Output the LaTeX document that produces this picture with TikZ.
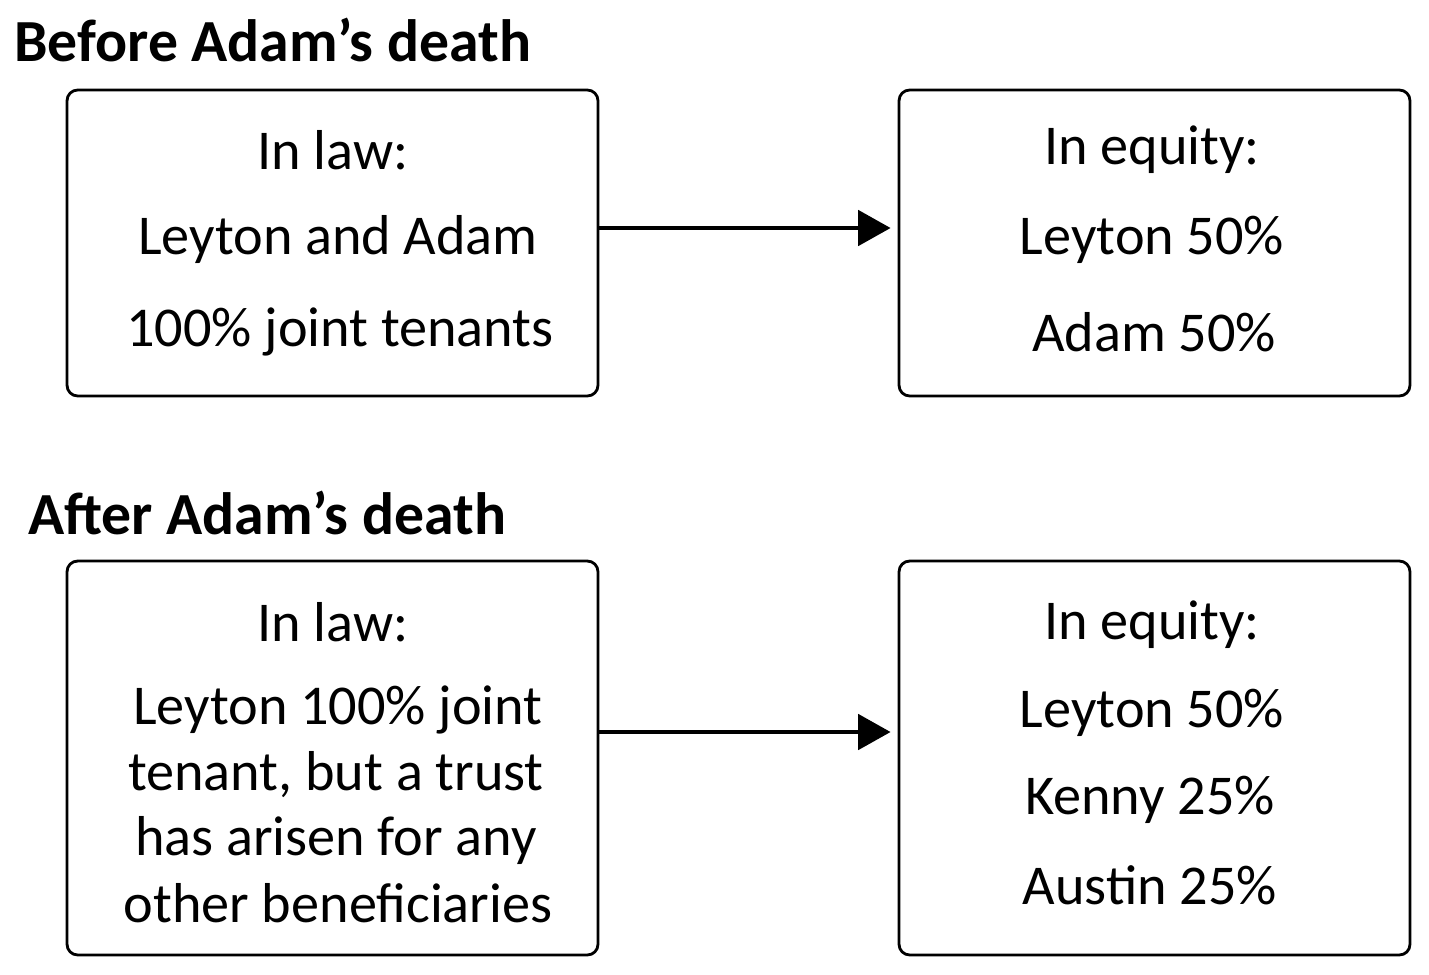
\documentclass[tikz,border=0pt]{standalone}
\usepackage{fontspec}
\setmainfont{Carlito}
\usetikzlibrary{arrows.meta}
\tikzset{
  box/.style = {draw, line width=1.6pt, rounded corners=6pt, minimum width=10.62cm},
  line/.style = {font=\fontsize{32}{36}\selectfont, anchor=center},
  title/.style = {font=\fontsize{34}{38}\selectfont\bfseries, anchor=west},
  flow/.style = {line width=2.8pt, -{Triangle[length=0.65cm,width=0.7cm]}, shorten >=0.14cm}
}
\begin{document}
\begin{tikzpicture}[x=0.02cm, y=-0.02cm]
  \useasboundingbox (0,0) rectangle (1429,974);
  % headings
  \node[title] (before) at (8,40) {Before Adam’s death};
  \node[title] (after) at (22,513) {After Adam’s death};

  % boxes
  \node[box, minimum height=6.12cm] (LawA) at (332.5,243) {};
  \node[box, minimum height=6.12cm, minimum width=10.22cm] (EqA) at (1154.5,243) {};
  \node[box, minimum height=7.88cm] (LawB) at (332.5,758) {};
  \node[box, minimum height=7.88cm, minimum width=10.22cm] (EqB) at (1154.5,758) {};

  % texts
  \node[line] (la1) at (333,150) {In law:};
  \node[line] (la2) at (338,240) {Leyton and Adam};
  \node[line] (la3) at (340,332) {100\% joint tenants};
  \node[line] (ea1) at (1152,150) {In equity:};
  \node[line] (ea2) at (1152,240) {Leyton 50\%};
  \node[line] (ea3) at (1154,332) {Adam 50\%};

  \node[line] (lb1) at (333,622) {In law:};
  \node[line] (lb2) at (338,710) {Leyton 100\% joint};
  \node[line] (lb3) at (336,775) {tenant, but a trust};
  \node[line] (lb4) at (336,840) {has arisen for any};
  \node[line] (lb5) at (338,903) {other beneficiaries};
  \node[line] (eb1) at (1152,625) {In equity:};
  \node[line] (eb2) at (1152,713) {Leyton 50\%};
  \node[line] (eb3) at (1150,800) {Kenny 25\%};
  \node[line] (eb4) at (1150,885) {Austin 25\%};

  % arrows
  \draw[flow] ([yshift=0.3cm]LawA.east) -- ([yshift=0.3cm]EqA.west);
  \draw[flow] ([yshift=0.52cm]LawB.east) -- ([yshift=0.52cm]EqB.west);
\end{tikzpicture}
\end{document}
